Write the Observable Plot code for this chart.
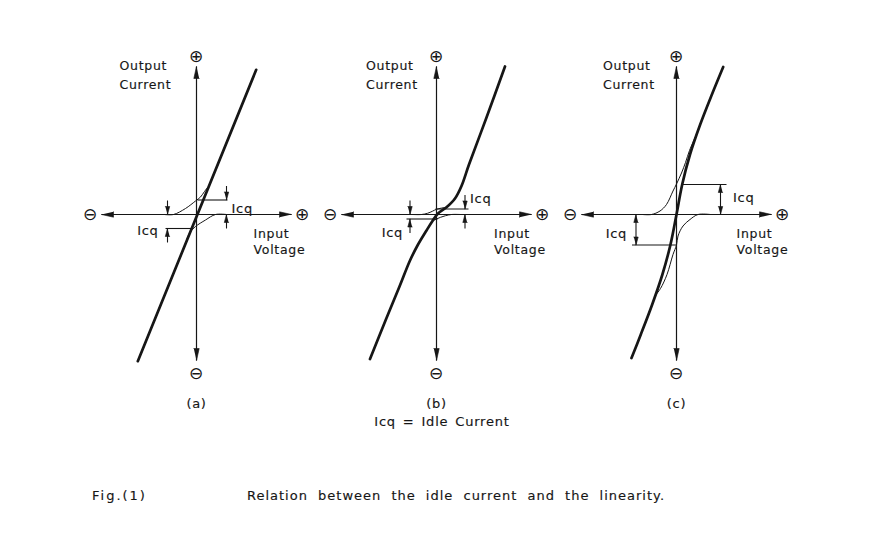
<!DOCTYPE html>
<html>
<head>
<meta charset="utf-8">
<script src="https://cdn.jsdelivr.net/npm/d3@7"></script>
<script src="https://cdn.jsdelivr.net/npm/@observablehq/plot@0.6"></script>
<style>
  body { margin: 0; background: #fff; }
  #wrap { width: 888px; height: 547px; font-family: "DejaVu Sans", sans-serif; color: #161616; background: #fff; }
  #chart svg { display: block; }
  #legend { margin-top: 2px; height: 16px; line-height: 16px; font-size: 13px; letter-spacing: 0.8px; word-spacing: 2px; text-align: center; padding-right: 4px; -webkit-text-stroke: 0.15px #161616; }
  #caption { margin-top: 58px; height: 16px; line-height: 16px; font-size: 13px; letter-spacing: 1px; word-spacing: 5px; display: flex; -webkit-text-stroke: 0.15px #161616; }
  #caption .fig { margin-left: 92px; width: 155px; letter-spacing: 2px; }
</style>
</head>
<body>
<div id="wrap">
  <div id="chart"></div>
  <div id="legend">Icq = Idle Current</div>
  <div id="caption"><span class="fig">Fig.(1)</span><span>Relation between the idle current and the linearity.</span></div>
</div>
<script>
// ---- Data: [input voltage, output current] in drawing units ----
const panelLabels = ["(a)", "(b)", "(c)"];

// composite (push-pull) transfer curves
const compositeA = [[-5.87, -14.67], [5.97, 14.47]];
const compositeB = [[-6.65, -14.45], [-5.1, -10.6], [-3.7, -7.2], [-2.65, -4.6], [-1.9, -3.1], [-1.0, -1.6], [-0.4, -0.65],
                    [0.15, 0.1], [1.0, 0.72], [1.85, 1.6], [2.5, 2.85], [3.25, 5.0], [5.0, 9.7], [6.85, 14.8]];
const compositeC = [[-4.5, -14.35], [-3.57, -12.0], [-2.43, -9.0], [-1.41, -6.0], [-0.6, -3.0], [0, 0],
                    [0.57, 3.0], [1.35, 6.0], [2.37, 9.0], [3.54, 12.0], [4.67, 14.75]];

// individual halves (upper = positive device, lower = negative device)
const upperHalfA = [[-3.2, 0], [-2.3, 0], [-1.1, 0.6], [-0.1, 1.35], [0.4, 1.75], [0.8, 2.3], [1.1, 2.7]];
const lowerHalfA = [[3.0, 0], [1.9, 0], [0.9, -0.55], [-0.1, -1.2], [-0.6, -1.7], [-0.95, -2.4]];
const upperHalfB = [[-2.4, 0], [-1.5, 0], [-0.9, 0.12], [-0.4, 0.33], [0, 0.52], [0.5, 0.64], [1.0, 0.72]];
const lowerHalfB = [[2.4, 0], [1.5, 0], [0.9, -0.12], [0.4, -0.28], [0, -0.45], [-0.45, -0.7], [-0.8, -1.3]];
const upperHalfC = [[-3.4, 0], [-2.5, 0], [-1.65, 0.35], [-1.0, 1.0], [-0.35, 2.35], [0, 3.05], [0.5, 4.15],
                    [0.9, 5.2], [1.3, 6.4], [1.97, 7.95]];
const lowerHalfC = [[3.4, 0], [2.15, 0], [1.35, -0.5], [0.65, -1.15], [0.15, -2.15], [0, -3.05], [-0.35, -4.0],
                    [-0.95, -6.0], [-1.6, -7.4], [-2.12, -8.1]];

// idle-current (Icq) annotations per panel
const icqUpper = [1.45, 0.55, 3.0];
const icqLower = [-1.4, -0.45, -3.05];
const icqUpperSpan = [[0.1, 3.1], [-0.1, 3.2], [0.55, 5.0]];
const icqLowerSpan = [[-3.1, -0.3], [-3.0, 0.1], [-4.45, 0]];
const icqArrowX = [[3.0, -2.9], [2.85, -2.65], [4.4, -4.05]];
const icqArrowStyle = ["outside", "outside", "inside"];
const icqLabelUpper = [[3.5, 0.6], [3.35, 1.6], [5.65, 1.65]];
const icqLabelLower = [[-3.8, -1.6], [-3.35, -1.8], [-4.95, -1.9]];

// axes of each panel
const inputRange = [-9.5, 9.5];
const outputRange = [-14.6, 14.8];
const signSymbols = [["⊖", -10.6, 0], ["⊕", 10.6, 0], ["⊕", 0, 15.75], ["⊖", 0, -15.9]];
const outputTitle = ["Output", "Current"];
const inputTitle = ["Input", "Voltage"];
const outputTitleX = [-7.7, -7.05, -7.35];
const inputTitleX = [5.7, 5.75, 6.0];

// ---- Build mark data ----
const SPACING = 24;           // panel spacing in input-voltage units
const composites = [compositeA, compositeB, compositeC];
const uppers = [upperHalfA, upperHalfB, upperHalfC];
const lowers = [lowerHalfA, lowerHalfB, lowerHalfC];
const shift = (pts, k, id) => pts.map(([v, i]) => ({x: v + k * SPACING, y: i, id}));

const thick = composites.flatMap((c, k) => shift(c, k, "comp" + k));
const thin = [0, 1, 2].flatMap(k => [...shift(uppers[k], k, "up" + k), ...shift(lowers[k], k, "lo" + k)]);

const heads = [];
function head(id, tx, ty, dx, dy, len, hw) {
  const bx = tx - dx * len, by = ty - dy * len, px = -dy, py = dx;
  heads.push({id, x: tx, y: ty}, {id, x: bx + px * hw, y: by + py * hw}, {id, x: bx - px * hw, y: by - py * hw});
}

const axisLinks = [];
const segs = [];
const texts = [];
[0, 1, 2].forEach(k => {
  const o = k * SPACING;
  axisLinks.push({x1: o + inputRange[0], y1: 0, x2: o + inputRange[1], y2: 0});
  axisLinks.push({x1: o, y1: outputRange[0], x2: o, y2: outputRange[1]});
  head("ax" + k + "l", o + inputRange[0], 0, -1, 0, 1.2, 0.27);
  head("ax" + k + "r", o + inputRange[1], 0, 1, 0, 1.2, 0.27);
  head("ax" + k + "t", o, outputRange[1], 0, 1, 1.2, 0.27);
  head("ax" + k + "b", o, outputRange[0], 0, -1, 1.2, 0.27);

  // Icq level lines
  segs.push({x1: o + icqUpperSpan[k][0], y1: icqUpper[k], x2: o + icqUpperSpan[k][1], y2: icqUpper[k]});
  segs.push({x1: o + icqLowerSpan[k][0], y1: icqLower[k], x2: o + icqLowerSpan[k][1], y2: icqLower[k]});
  // dimension arrows
  [[icqArrowX[k][0], icqUpper[k]], [icqArrowX[k][1], icqLower[k]]].forEach(([ax, lvl], j) => {
    const lo = Math.min(0, lvl), hi = Math.max(0, lvl), x = o + ax, id = "d" + k + j;
    if (icqArrowStyle[k] === "inside") {
      segs.push({x1: x, y1: lo, x2: x, y2: hi});
      head(id + "t", x, hi, 0, 1, 0.8, 0.22);
      head(id + "b", x, lo, 0, -1, 0.8, 0.22);
    } else {
      const tail = 1.4;
      segs.push({x1: x, y1: hi + tail, x2: x, y2: hi});
      segs.push({x1: x, y1: lo - tail, x2: x, y2: lo});
      head(id + "t", x, hi, 0, -1, 0.8, 0.22);
      head(id + "b", x, lo, 0, 1, 0.8, 0.22);
    }
  });

  texts.push({x: o + icqLabelUpper[k][0], y: icqLabelUpper[k][1], t: "Icq", a: "start", s: 13});
  texts.push({x: o + icqLabelLower[k][0], y: icqLabelLower[k][1], t: "Icq", a: "end", s: 13});
  texts.push({x: o + outputTitleX[k], y: 14.9, t: outputTitle[0], a: "start", s: 12});
  texts.push({x: o + outputTitleX[k], y: 13.0, t: outputTitle[1], a: "start", s: 12});
  texts.push({x: o + inputTitleX[k], y: -1.9, t: inputTitle[0], a: "start", s: 12});
  texts.push({x: o + inputTitleX[k], y: -3.5, t: inputTitle[1], a: "start", s: 12});
  texts.push({x: o, y: -18.9, t: panelLabels[k], a: "middle", s: 12});
});
const signs = [0, 1, 2].flatMap(k => signSymbols.map(([t, x, y]) => ({t, x: x + k * SPACING, y})));

const ink = "#161616";
const txt = {x: "x", y: "y", text: "t", fill: ink, stroke: ink, strokeWidth: 0.15, paintOrder: "stroke"};
const plot = Plot.plot({
  width: 888,
  height: 412,
  margin: 0,
  style: {background: "#fff", color: ink, fontFamily: "'DejaVu Sans', sans-serif", letterSpacing: "0.7px"},
  x: {domain: [-19.6, 69.2], axis: null},
  y: {domain: [-19.8, 21.4], axis: null},
  marks: [
    Plot.link(axisLinks, {x1: "x1", y1: "y1", x2: "x2", y2: "y2", stroke: ink, strokeWidth: 1.2}),
    Plot.link(segs, {x1: "x1", y1: "y1", x2: "x2", y2: "y2", stroke: ink, strokeWidth: 1.1}),
    Plot.line(thin, {x: "x", y: "y", z: "id", curve: "catmull-rom", stroke: ink, strokeWidth: 1.0}),
    Plot.line(thick, {x: "x", y: "y", z: "id", curve: "catmull-rom", stroke: ink, strokeWidth: 2.7, strokeLinecap: "round"}),
    Plot.line(heads, {x: "x", y: "y", z: "id", fill: ink, stroke: ink, strokeWidth: 0.6}),
    Plot.text(signs, {x: "x", y: "y", text: "t", fontSize: 17, fill: ink}),
    Plot.text(texts.filter(d => d.a === "start" && d.s === 12), {...txt, textAnchor: "start", fontSize: 12.5}),
    Plot.text(texts.filter(d => d.a === "start" && d.s === 13), {...txt, textAnchor: "start", fontSize: 13}),
    Plot.text(texts.filter(d => d.a === "end"), {...txt, textAnchor: "end", fontSize: 13}),
    Plot.text(texts.filter(d => d.a === "middle"), {...txt, textAnchor: "middle", fontSize: 13})
  ]
});
document.getElementById("chart").appendChild(plot);
</script>
</body>
</html>
